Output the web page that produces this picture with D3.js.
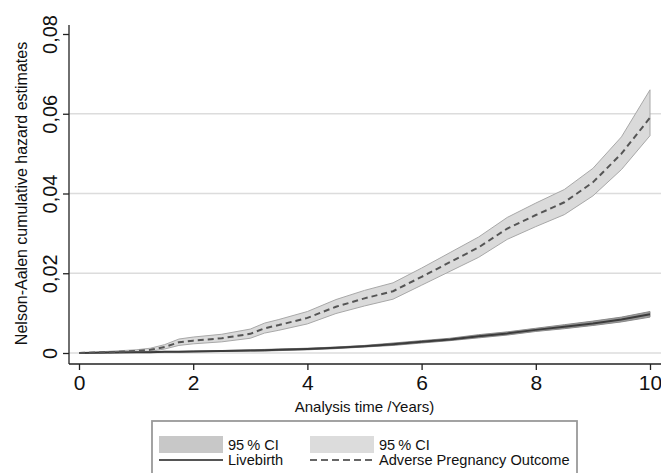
<!DOCTYPE html>
<html>
<head>
<meta charset="utf-8">
<script src="https://cdn.jsdelivr.net/npm/d3@7"></script>
<style>
  body { margin: 0; background: #fff; }
  svg { display: block; font-family: "Liberation Sans", Arial, Helvetica, sans-serif; }
</style>
</head>
<body>
<svg id="chart" width="661" height="473"></svg>
<script>
// analysis time (years)
const times = [0, 0.5, 1, 1.25, 1.5, 1.75, 2, 2.5, 3, 3.25, 3.5, 4, 4.5, 5, 5.5, 6, 6.5, 7, 7.5, 8, 8.5, 9, 9.5, 10];

// adverse pregnancy outcome: estimate and 95% CI
const apo   = [0, 0.0002, 0.0005, 0.0008, 0.0015, 0.0027, 0.0031, 0.0037, 0.0048, 0.0062, 0.0070, 0.0088, 0.0116, 0.0137, 0.0155, 0.0191, 0.0228, 0.0265, 0.0312, 0.0346, 0.0378, 0.0428, 0.0500, 0.0590];
const apoLo = [0, 0.0000, 0.0002, 0.0004, 0.0010, 0.0019, 0.0023, 0.0028, 0.0037, 0.0050, 0.0057, 0.0073, 0.0099, 0.0118, 0.0135, 0.0170, 0.0205, 0.0240, 0.0285, 0.0317, 0.0347, 0.0394, 0.0460, 0.0545];
const apoHi = [0, 0.0004, 0.0008, 0.0012, 0.0021, 0.0035, 0.0040, 0.0047, 0.0060, 0.0075, 0.0084, 0.0104, 0.0134, 0.0157, 0.0176, 0.0213, 0.0252, 0.0291, 0.0340, 0.0376, 0.0410, 0.0463, 0.0542, 0.0660];

// livebirth: estimate and 95% CI
const lb   = [0, 0.0001, 0.0002, 0.0002, 0.0003, 0.0003, 0.0004, 0.0005, 0.0006, 0.0007, 0.0008, 0.0010, 0.0013, 0.0017, 0.0022, 0.0028, 0.0034, 0.0042, 0.0049, 0.0058, 0.0066, 0.0074, 0.0084, 0.0097];
const lbLo = [0, 0.0000, 0.0001, 0.0001, 0.0002, 0.0002, 0.0003, 0.0004, 0.0005, 0.0005, 0.0006, 0.0008, 0.0011, 0.0015, 0.0019, 0.0025, 0.0031, 0.0038, 0.0045, 0.0054, 0.0061, 0.0069, 0.0078, 0.0090];
const lbHi = [0, 0.0002, 0.0003, 0.0003, 0.0004, 0.0004, 0.0005, 0.0006, 0.0008, 0.0009, 0.0010, 0.0012, 0.0015, 0.0019, 0.0025, 0.0031, 0.0037, 0.0046, 0.0053, 0.0062, 0.0071, 0.0080, 0.0090, 0.0104];

const xTicks = [0, 2, 4, 6, 8, 10];
const yTicks = [0, 0.02, 0.04, 0.06, 0.08];

const legendRows = [
    ["95\u2009% CI", "95\u2009% CI"],
    ["Livebirth", "Adverse Pregnancy Outcome"]
];

const svg = d3.select("#chart");
const W = 661;

const x = d3.scaleLinear().domain([0, 10]).range([79, 650]);
const y = d3.scaleLinear().domain([0, 0.08]).range([353, 34]);

const commaFmt = d3.formatLocale({ decimal: ",", thousands: ".", grouping: [3], currency: ["", ""] }).format("~g");

// grid
svg.append("g")
    .selectAll("line")
    .data(yTicks.slice(0, 4))
    .enter()
    .append("line")
    .attr("x1", 69)
    .attr("x2", W)
    .attr("y1", d => y(d))
    .attr("y2", d => y(d))
    .attr("stroke", "#dcdcdc")
    .attr("stroke-width", 1.6);

const rows = times.map((t, i) => ({ t, apo: apo[i], apoLo: apoLo[i], apoHi: apoHi[i], lb: lb[i], lbLo: lbLo[i], lbHi: lbHi[i] }));

// CI bands
const band = (lo, hi) => d3.area().x(d => x(d.t)).y0(d => y(d[lo])).y1(d => y(d[hi]));

svg.append("path")
    .datum(rows)
    .attr("d", band("apoLo", "apoHi"))
    .attr("fill", "#dadada")
    .attr("stroke", "#a8a8a8")
    .attr("stroke-width", 1);

svg.append("path")
    .datum(rows)
    .attr("d", band("lbLo", "lbHi"))
    .attr("fill", "#9a9a9a")
    .attr("stroke", "#8a8a8a")
    .attr("stroke-width", 1);

// estimates
svg.append("path")
    .datum(rows)
    .attr("d", d3.line().x(d => x(d.t)).y(d => y(d.lb)))
    .attr("fill", "none")
    .attr("stroke", "#3c3c3c")
    .attr("stroke-width", 2);

svg.append("path")
    .datum(rows)
    .attr("d", d3.line().x(d => x(d.t)).y(d => y(d.apo)))
    .attr("fill", "none")
    .attr("stroke", "#555")
    .attr("stroke-width", 2)
    .attr("stroke-dasharray", "6,4");

// axes
const xAxis = svg.append("g")
    .attr("transform", "translate(0,364)")
    .call(d3.axisBottom(x).tickValues(xTicks).tickSize(6).tickPadding(5).tickSizeOuter(0));
xAxis.select(".domain").attr("d", "M69,0H" + W);
xAxis.selectAll("text").style("font-size", "21px").attr("fill", "#111");

const yAxis = svg.append("g")
    .attr("transform", "translate(69,0)")
    .call(d3.axisLeft(y).tickValues(yTicks).tickFormat(commaFmt).tickSize(6).tickSizeOuter(0));
yAxis.select(".domain").attr("d", "M0,25V364");
yAxis.selectAll("text")
    .attr("transform", "rotate(-90)")
    .attr("x", 0)
    .attr("y", -12)
    .attr("dy", 0)
    .style("text-anchor", "middle")
    .style("font-size", "20px")
    .attr("fill", "#111");
svg.selectAll(".domain, .tick line").attr("stroke", "#222").attr("stroke-width", 1.3);

// titles
svg.append("text")
    .attr("transform", "translate(27," + (y(0.04)) + ") rotate(-90)")
    .attr("text-anchor", "middle")
    .style("font-size", "16px")
    .attr("fill", "#111")
    .text("Nelson-Aalen cumulative hazard estimates");

svg.append("text")
    .attr("x", (x(0) + x(10)) / 2)
    .attr("y", 412)
    .attr("text-anchor", "middle")
    .style("font-size", "15px")
    .attr("fill", "#111")
    .text("Analysis time /Years)");

// legend
const legend = svg.append("g");
legend.append("rect")
    .attr("x", 152)
    .attr("y", 421)
    .attr("width", 425)
    .attr("height", 70)
    .attr("fill", "#fff")
    .attr("stroke", "#999")
    .attr("stroke-width", 1.8);

const cols = [159, 310];
const swatchFill = ["#c8c8c8", "#dcdcdc"];
cols.forEach((cx, i) => {
    legend.append("rect")
        .attr("x", cx).attr("y", 436).attr("width", 64).attr("height", 17)
        .attr("fill", swatchFill[i]);
    legend.append("line")
        .attr("x1", cx).attr("x2", cx + 64).attr("y1", 460).attr("y2", 460)
        .attr("stroke", i === 0 ? "#555" : "#666")
        .attr("stroke-width", 2)
        .attr("stroke-dasharray", i === 0 ? null : "7,4");
    legendRows.forEach((r, j) => {
        legend.append("text")
            .attr("x", cx + 69)
            .attr("y", j === 0 ? 444.5 : 460)
            .attr("dy", "0.35em")
            .style("font-size", "14.6px")
            .attr("fill", "#111")
            .text(r[i]);
    });
});
</script>
</body>
</html>
